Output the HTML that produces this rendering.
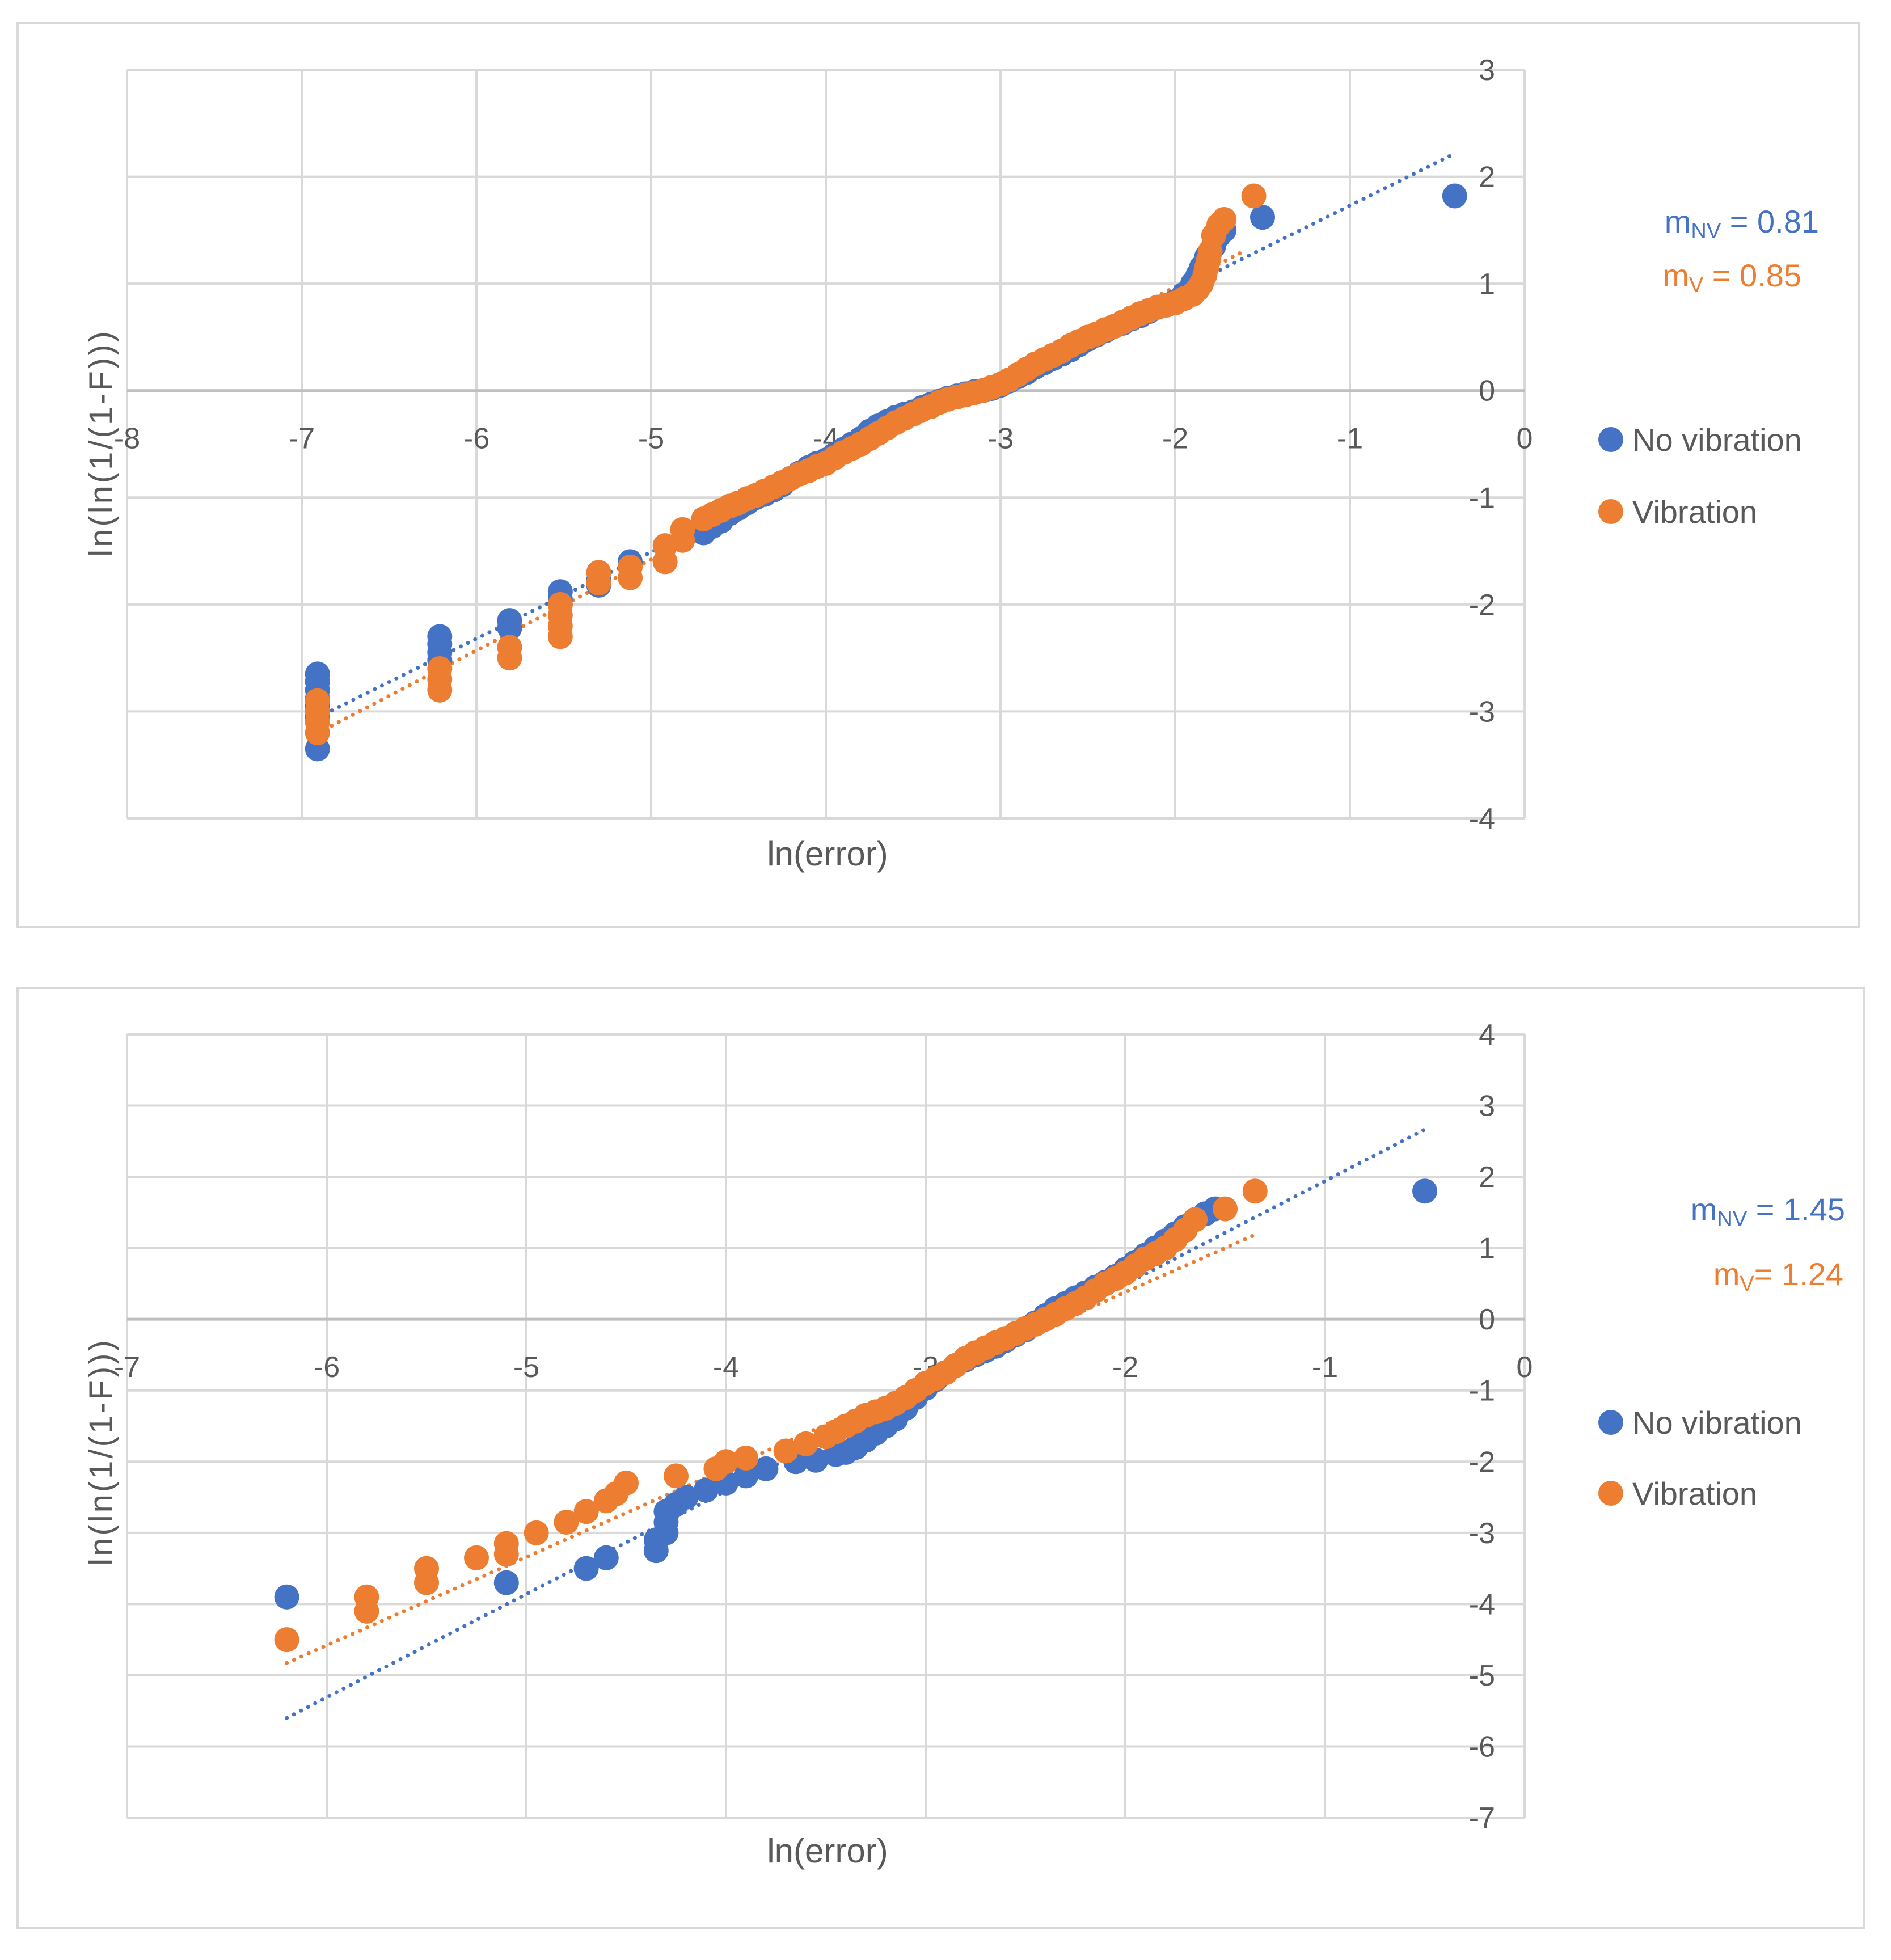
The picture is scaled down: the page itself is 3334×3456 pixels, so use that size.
<!DOCTYPE html>
<html><head><meta charset="utf-8"><style>
body{margin:0;background:#fff}
svg{display:block}
text{font-family:"Liberation Sans",sans-serif;fill:#595959}
</style></head><body>
<svg id="s" width="3334" height="3456" viewBox="0 0 3334 3456" xmlns="http://www.w3.org/2000/svg"></svg>
<script>
const NS="http://www.w3.org/2000/svg";
// ---- Chart 1 data ----
const c1NV=[[-6.91,-2.65],[-6.91,-2.72],[-6.91,-2.8],[-6.91,-2.88],[-6.91,-2.95],[-6.91,-3.05],[-6.91,-3.35],
[-6.21,-2.3],[-6.21,-2.37],[-6.21,-2.45],[-6.21,-2.52],[-5.81,-2.15],[-5.81,-2.22],[-5.52,-1.88],[-5.52,-1.95],[-5.52,-2.0],[-5.3,-1.77],[-5.3,-1.82],[-5.12,-1.6],
[-4.7,-1.33],[-4.65,-1.27],[-4.6,-1.22],[-4.55,-1.15],[-4.5,-1.1],[-4.45,-1.05],[-4.4,-1.0],[-4.35,-0.97],[-4.3,-0.93],[-4.25,-0.88],[-4.2,-0.82],[-4.15,-0.77],[-4.1,-0.72],[-4.05,-0.68],[-4.0,-0.65],[-3.95,-0.6],[-3.9,-0.55],[-3.85,-0.5],[-3.8,-0.45],[-3.75,-0.38],[-3.7,-0.33],[-3.65,-0.29],[-3.6,-0.25],[-3.55,-0.22],[-3.5,-0.2],[-3.45,-0.16],[-3.4,-0.13],[-3.35,-0.1],[-3.3,-0.07],[-3.25,-0.05],[-3.2,-0.03],[-3.15,-0.01],[-3.1,0],[-3.05,0.02],[-3.0,0.05],[-2.95,0.09],[-2.9,0.13],[-2.85,0.17],[-2.8,0.22],[-2.75,0.26],[-2.7,0.3],[-2.65,0.34],[-2.6,0.38],[-2.55,0.43],[-2.5,0.48],[-2.45,0.52],[-2.4,0.56],[-2.35,0.6],[-2.3,0.63],[-2.25,0.67],[-2.2,0.7],[-2.15,0.74],[-2.1,0.78],[-2.05,0.8],[-2.0,0.83],[-1.95,0.9],[-1.9,1.0],[-1.87,1.08],[-1.85,1.15],[-1.82,1.25],[-1.8,1.3],[-1.78,1.35],[-1.75,1.45],[-1.72,1.5],[-1.5,1.62],[-0.4,1.82]];
const c1V=[[-6.91,-2.9],[-6.91,-3.0],[-6.91,-3.1],[-6.91,-3.2],[-6.21,-2.6],[-6.21,-2.7],[-6.21,-2.8],[-5.81,-2.4],[-5.81,-2.5],[-5.52,-2.0],[-5.52,-2.1],[-5.52,-2.2],[-5.52,-2.3],[-5.3,-1.7],[-5.3,-1.8],[-5.12,-1.65],[-5.12,-1.75],[-4.92,-1.45],[-4.92,-1.6],[-4.82,-1.3],[-4.82,-1.4],
[-4.7,-1.2],[-4.65,-1.16],[-4.6,-1.12],[-4.55,-1.08],[-4.5,-1.05],[-4.45,-1.01],[-4.4,-0.98],[-4.35,-0.94],[-4.3,-0.9],[-4.25,-0.86],[-4.2,-0.82],[-4.15,-0.78],[-4.1,-0.75],[-4.05,-0.71],[-4.0,-0.68],[-3.95,-0.63],[-3.9,-0.58],[-3.85,-0.54],[-3.8,-0.5],[-3.75,-0.45],[-3.7,-0.4],[-3.65,-0.35],[-3.6,-0.3],[-3.55,-0.26],[-3.5,-0.22],[-3.45,-0.18],[-3.4,-0.15],[-3.35,-0.11],[-3.3,-0.08],[-3.25,-0.06],[-3.2,-0.04],[-3.15,-0.02],[-3.1,0.0],[-3.05,0.03],[-3.0,0.06],[-2.95,0.1],[-2.9,0.15],[-2.85,0.2],[-2.8,0.25],[-2.75,0.29],[-2.7,0.33],[-2.65,0.37],[-2.6,0.42],[-2.55,0.46],[-2.5,0.5],[-2.45,0.53],[-2.4,0.57],[-2.35,0.6],[-2.3,0.64],[-2.25,0.68],[-2.2,0.72],[-2.15,0.75],[-2.1,0.78],[-2.05,0.8],[-2.0,0.82],[-1.95,0.86],[-1.9,0.9],[-1.87,0.95],[-1.85,1.0],[-1.83,1.08],[-1.82,1.15],[-1.81,1.22],[-1.8,1.3],[-1.78,1.45],[-1.75,1.55],[-1.72,1.6],[-1.55,1.82]];
const c1Slopes=[0.81,0.85], c1Icpt=[2.54,2.67], c1Range=[[-6.91,-0.4],[-6.91,-1.6]];
const c1XTicks=[-8,-7,-6,-5,-4,-3,-2,-1,0], c1YTicks=[3,2,1,0,-1,-2,-3,-4];
// ---- Chart 2 data ----
const c2NV=[[-6.2,-3.9],[-5.1,-3.7],[-4.7,-3.5],[-4.6,-3.35],[-4.35,-3.25],[-4.35,-3.1],[-4.3,-3.0],[-4.3,-2.85],[-4.3,-2.7],[-4.25,-2.6],[-4.2,-2.5],[-4.1,-2.4],[-4.0,-2.3],[-3.9,-2.2],[-3.8,-2.1],[-3.65,-2.0],[-3.55,-1.98],[-3.45,-1.9],[-3.4,-1.87],[-3.35,-1.8],[-3.3,-1.7],[-3.25,-1.6],[-3.2,-1.5],[-3.15,-1.4],[-3.1,-1.25],[-3.05,-1.1],[-3.0,-0.97],[-2.95,-0.85],[-2.9,-0.75],[-2.85,-0.65],[-2.8,-0.57],[-2.75,-0.5],[-2.7,-0.44],[-2.65,-0.38],[-2.6,-0.3],[-2.55,-0.22],[-2.5,-0.15],[-2.45,-0.05],[-2.4,0.05],[-2.35,0.15],[-2.3,0.22],[-2.25,0.3],[-2.2,0.37],[-2.15,0.45],[-2.1,0.52],[-2.05,0.6],[-2.0,0.7],[-1.95,0.8],[-1.9,0.9],[-1.85,1.0],[-1.8,1.1],[-1.75,1.2],[-1.7,1.3],[-1.65,1.4],[-1.6,1.48],[-1.55,1.55],[-0.5,1.8]];
const c2V=[[-6.2,-4.5],[-5.8,-3.9],[-5.8,-4.1],[-5.5,-3.5],[-5.5,-3.7],[-5.25,-3.35],[-5.1,-3.15],[-5.1,-3.3],[-4.95,-3.0],[-4.8,-2.85],[-4.7,-2.7],[-4.6,-2.55],[-4.55,-2.45],[-4.5,-2.3],[-4.25,-2.2],[-4.05,-2.1],[-4.0,-2.0],[-3.9,-1.95],[-3.7,-1.85],[-3.6,-1.75],[-3.5,-1.65],[-3.45,-1.58],[-3.4,-1.5],[-3.35,-1.43],[-3.3,-1.35],[-3.25,-1.3],[-3.2,-1.25],[-3.15,-1.18],[-3.1,-1.1],[-3.05,-1.0],[-3.0,-0.9],[-2.95,-0.83],[-2.9,-0.75],[-2.85,-0.65],[-2.8,-0.55],[-2.75,-0.47],[-2.7,-0.4],[-2.65,-0.33],[-2.6,-0.27],[-2.55,-0.2],[-2.5,-0.13],[-2.45,-0.07],[-2.4,0.0],[-2.35,0.07],[-2.3,0.15],[-2.25,0.22],[-2.2,0.3],[-2.15,0.4],[-2.1,0.5],[-2.05,0.57],[-2.0,0.65],[-1.95,0.75],[-1.9,0.85],[-1.85,0.92],[-1.8,1.0],[-1.75,1.12],[-1.7,1.25],[-1.65,1.4],[-1.5,1.55],[-1.35,1.8]];
const c2Slopes=[1.45,1.24], c2Icpt=[3.39,2.86], c2Range=[[-6.2,-0.5],[-6.2,-1.35]];
const c2XTicks=[-7,-6,-5,-4,-3,-2,-1,0], c2YTicks=[4,3,2,1,0,-1,-2,-3,-4,-5,-6,-7];

const svg=document.getElementById('s');
function el(tag,attrs,parent,txt){const e=document.createElementNS(NS,tag);for(const k in attrs)e.setAttribute(k,attrs[k]);if(txt!==undefined)e.textContent=txt;(parent||svg).appendChild(e);return e;}
const BLUE="#4472C4",ORANGE="#ED7D31";

function chart(o){
  const g=el('g',{});
  
  
  const box=el('rect',{x:o.box[0],y:o.box[1],width:o.box[2],height:o.box[3],fill:'#fff',stroke:'#d9d9d9','stroke-width':4},g);
  
  
  const L=224,R=2688,T=o.top,B=o.bottom;
  const xs=v=>L+(v-o.xmin)/(o.xmax-o.xmin)*(R-L);
  const ys=v=>T+(o.ymax-v)/(o.ymax-o.ymin)*(B-T);
  o.xTicks.forEach(t=>{const l=el('line',{x1:xs(t),x2:xs(t),y1:T,y2:B,stroke:'#d9d9d9','stroke-width':4},g);
    
    });
  o.yTicks.forEach(t=>{const l=el('line',{x1:L,x2:R,y1:ys(t),y2:ys(t),stroke:t===0?'#bfbfbf':'#d9d9d9','stroke-width':t===0?5:4},g);
    
    });
  o.xTicks.forEach(t=>{const tx=el('text',{x:xs(t),y:ys(0)+102,'font-size':52,'text-anchor':'middle'},g,String(t));
    
    });
  o.yTicks.forEach(t=>{const tx=el('text',{x:R-52,y:ys(t)+18,'font-size':52,'text-anchor':'end'},g,String(t));
    
    });
  [[BLUE,0],[ORANGE,1]].forEach(([c,i])=>{
    const x1=o.range[i][0],x2=o.range[i][1];
    const ln=el('line',{x1:xs(x1),y1:ys(o.slopes[i]*x1+o.icpt[i]),x2:xs(x2),y2:ys(o.slopes[i]*x2+o.icpt[i]),stroke:c,'stroke-width':7,'stroke-linecap':'round','stroke-dasharray':'0.1 14'},g);
    
    
  });
  [[o.nv,BLUE,'no-vibration-point'],[o.v,ORANGE,'vibration-point']].forEach(([arr,c,n])=>{
    arr.forEach(p=>{const ci=el('circle',{cx:xs(p[0]),cy:ys(p[1]),r:22,fill:c},g);
      
      });
  });
  const yt=el('text',{x:0,y:0,'font-size':58,'text-anchor':'middle','letter-spacing':4,transform:`translate(${198},${o.yTitleY}) rotate(-90)`},g,'ln(ln(1/(1-F)))');
  
  
  const xt=el('text',{x:1459,y:o.xTitleY,'font-size':60,'text-anchor':'middle'},g,'ln(error)');
  
  
  const m1=el('text',{x:o.mx,y:o.m1y,'font-size':56,'text-anchor':'end',fill:BLUE,style:'fill:'+BLUE},g);
  m1.innerHTML='m<tspan font-size="38" dy="10">NV</tspan><tspan dy="-10"> = '+o.mNV+'</tspan>';
  
  
  const m2=el('text',{x:o.mx2,y:o.m2y,'font-size':56,'text-anchor':'end',fill:ORANGE,style:'fill:'+ORANGE},g);
  m2.innerHTML='m<tspan font-size="38" dy="10">V</tspan><tspan dy="-10">'+o.mVtxt+'</tspan>';
  
  
  [[BLUE,'No vibration',o.leg1],[ORANGE,'Vibration',o.leg2]].forEach(([c,t,y],i)=>{
    const lg=el('g',{},g);
    
    
    el('circle',{cx:2840,cy:y,r:22,fill:c},lg);
    el('text',{x:2878,y:y+20,'font-size':56},lg,t);
  });
}
chart({name:'chart-top',box:[31,40,3247,1595],top:123,bottom:1443,xmin:-8,xmax:0,ymin:-4,ymax:3,
  xTicks:c1XTicks,yTicks:c1YTicks,nv:c1NV,v:c1V,slopes:c1Slopes,icpt:c1Icpt,range:c1Range,
  yTitleY:781,xTitleY:1526,mx:3207,mx2:3176,m1y:410,m2y:505,mNV:'0.81',mVtxt:' = 0.85',leg1:775,leg2:902});
chart({name:'chart-bottom',box:[31,1742,3255,1657],top:1824,bottom:3205,xmin:-7,xmax:0,ymin:-7,ymax:4,
  xTicks:c2XTicks,yTicks:c2YTicks,nv:c2NV,v:c2V,slopes:c2Slopes,icpt:c2Icpt,range:c2Range,
  yTitleY:2560,xTitleY:3284,mx:3253,mx2:3250,m1y:2152,m2y:2266,mNV:'1.45',mVtxt:'= 1.24',leg1:2508,leg2:2633});
</script>
</body></html>
